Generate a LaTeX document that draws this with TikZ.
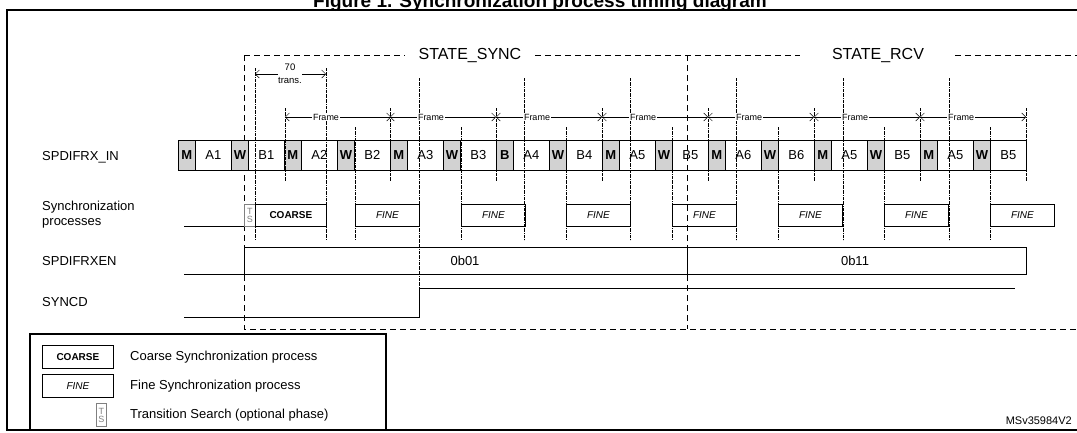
\documentclass[tikz,border=0pt]{standalone}
\usepackage{fontspec}
\setmainfont{Liberation Sans}
\usetikzlibrary{arrows.meta}
\begin{document}
\begin{tikzpicture}[x=1pt,y=-1pt,
  lbl/.style={anchor=west,font=\fontsize{13}{15}\selectfont,inner sep=0},
  cell/.style={draw,line width=0.8pt,minimum height=30pt,inner sep=0,font=\fontsize{13}{15}\selectfont},
  pre/.style={cell,fill=gray!35,minimum width=17pt,font=\fontsize{13}{15}\selectfont\bfseries},
  dat/.style={cell,minimum width=36pt},
  proc/.style={draw,line width=0.8pt,inner sep=0,minimum height=22pt},
  dd/.style={densely dashdotted,line width=0.4pt},
  sd/.style={dashed,dash pattern=on 6pt off 4pt,line width=0.6pt},
  sig/.style={line width=0.9pt},
  fr/.style={font=\fontsize{9}{10}\selectfont,fill=white,inner sep=1pt}]
\useasboundingbox (0,0) rectangle (1077,432);
% title and frame
\node[font=\fontsize{19}{21}\selectfont\bfseries,anchor=base] (title) at (540,7) {Figure 1. Synchronization process timing diagram};
\draw[line width=1.2pt] (1080,10) -- (7,10) -- (7,430) -- (1080,430);
% state box
\draw[sd] (244,55) -- (405,55) (535,55) -- (800,55) (955,55) -- (1080,55);
\draw[sd] (244,55) -- (244,329) -- (1080,329);
\draw[sd] (687,55) -- (687,329);
\node[font=\fontsize{16}{18}\selectfont] (ss) at (470,55) {STATE\_SYNC};
\node[font=\fontsize{16}{18}\selectfont] (sr) at (878,55) {STATE\_RCV};
% signal labels
\node[lbl] (l1) at (42,157) {SPDIFRX\_IN};
\node[lbl] (l2) at (42,207) {Synchronization};
\node[lbl] (l3) at (42,223) {processes};
\node[lbl] (l4) at (42,261) {SPDIFRXEN};
\node[lbl] (l5) at (42,302) {SYNCD};
% stream
\foreach \k/\p/\d in {0/M/A1,1/W/B1,2/M/A2,3/W/B2,4/M/A3,5/W/B3,6/B/A4,7/W/B4,8/M/A5,9/W/B5,10/M/A6,11/W/B6,12/M/A5,13/W/B5,14/M/A5,15/W/B5}{
  \pgfmathsetmacro{\xa}{178+\k*53}
  \node[pre,anchor=west] (p\k) at (\xa,155) {\p};
  \node[dat,anchor=west] (d\k) at (\xa+17,155) {\d};
}
% dash-dot guide lines
\draw[dd] (255,68) -- (255,240);
\draw[dd] (326,68) -- (326,240);
\foreach \x in {419,524,630,736,843,949}{\draw[dd] (\x,78) -- (\x,240);}
\foreach \x in {355,461,566,672,778,884,990}{\draw[dd] (\x,127) -- (\x,240);}
\foreach \x in {285,390,496,602,708,814,920,1026}{\draw[dd] (\x,108) -- (\x,182);}
% 70 trans
\node[font=\fontsize{9.5}{10}\selectfont,inner sep=0] (n70) at (290,67) {70};
\node[font=\fontsize{9.5}{10}\selectfont,inner sep=0] (ntr) at (290,80) {trans.};
\coordinate (t1) at (255,74); \coordinate (t2) at (326,74);
\draw[-{Straight Barb[length=4pt]},line width=0.5pt] (ntr.west|-t1) -- (t1);
\draw[-{Straight Barb[length=4pt]},line width=0.5pt] (ntr.east|-t2) -- (t2);
% frames
\foreach \i/\x in {0/285,1/390,2/496,3/602,4/708,5/814,6/920}{
  \pgfmathsetmacro{\xe}{\x+106}
  \coordinate (fa\i) at (\x,117); \coordinate (fb\i) at (\xe,117);
  \draw[{Straight Barb[length=4pt]}-{Straight Barb[length=4pt]},line width=0.5pt] (fa\i) -- (fb\i);
  \node[fr] (fl\i) at (\x+41,117) {Frame};
}
% processes
\node[proc,draw=gray,text=gray,minimum width=11pt,anchor=north west,font=\fontsize{9}{9}\selectfont,align=center] (ts) at (244,204) {T\\[-1pt]S};
\node[proc,minimum width=71pt,anchor=north west,font=\fontsize{10}{11}\selectfont\bfseries] (coarse) at (255,204) {COARSE};
\foreach \i/\x in {0/355,1/461,2/566,3/672,4/778,5/884,6/990}{
  \node[proc,minimum width=64pt,anchor=north west,font=\fontsize{10}{11}\selectfont\itshape] (fine\i) at (\x,204) {FINE};
}
\draw[sig] (184,226) -- (244,226);
% SPDIFRXEN
\draw[sig] (184,274) -- (1026,274) -- (1026,247) -- (244,247) -- (244,274);
\draw[sig] (687,247) -- (687,274);
\draw[dd] (419,240) -- (419,290);
\node[font=\fontsize{13}{15}\selectfont] (v1) at (465,261) {0b01};
\node[font=\fontsize{13}{15}\selectfont] (v2) at (855,261) {0b11};
% SYNCD
\draw[sig] (184,317) -- (419,317) -- (419,288) -- (1015,288);
% legend
\draw[line width=1.2pt] (30,334) rectangle (386,430);
\node[proc,minimum width=71pt,minimum height=23pt,anchor=west,font=\fontsize{10}{11}\selectfont\bfseries] (lc) at (42,357) {COARSE};
\node[proc,minimum width=71pt,minimum height=23pt,anchor=west,font=\fontsize{10}{11}\selectfont\itshape] (lf) at (42,386) {FINE};
\node[proc,draw=gray,text=gray,minimum width=10pt,minimum height=23pt,anchor=west,font=\fontsize{9}{9}\selectfont,align=center] (lt) at (96,415) {T\\[-1pt]S};
\node[lbl] (lct) at (130,357) {Coarse Synchronization process};
\node[lbl] (lft) at (130,386) {Fine Synchronization process};
\node[lbl] (ltt) at (130,415) {Transition Search (optional phase)};
\node[anchor=east,font=\fontsize{11}{12}\selectfont,inner sep=0] (id) at (1072,421) {MSv35984V2};
\end{tikzpicture}
\end{document}
